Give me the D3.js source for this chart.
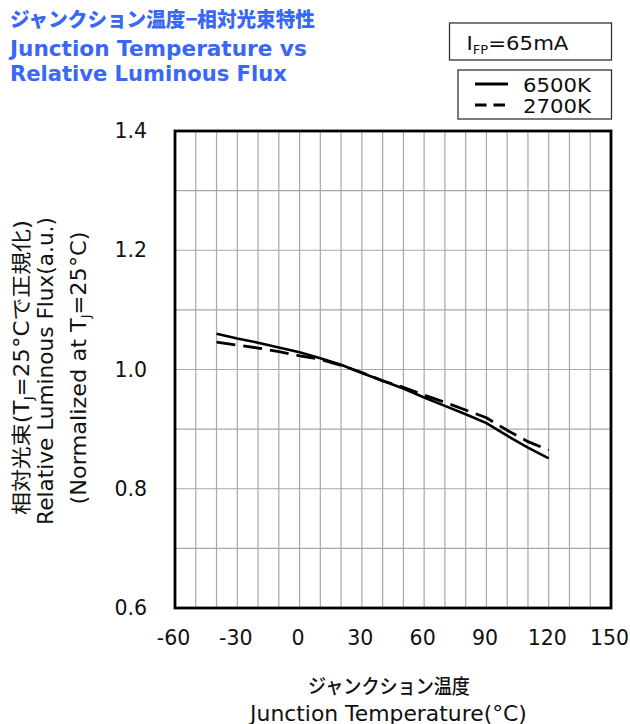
<!DOCTYPE html>
<html lang="ja">
<head>
<meta charset="UTF-8">
<title>Junction Temperature vs Relative Luminous Flux</title>
<script src="https://d3js.org/d3.v7.min.js"></script>
<style>
    body { margin: 0; background: #fff; }
    svg { display: block; }
    .title { font-family: "DejaVu Sans", "Noto Sans CJK JP", sans-serif; font-weight: bold; fill: #3868f5; }
    .lbl { font-family: "DejaVu Sans", "Noto Sans CJK JP", sans-serif; fill: #111; }
    .grid line { stroke: #a8a8a8; stroke-width: 1.2; }
    .axis text { font-family: "DejaVu Sans", sans-serif; font-size: 20.5px; fill: #111; }
</style>
</head>
<body>
<svg width="630" height="724"></svg>
<script>
// values
const temps = [-40, -30, -20, -10, 0, 10, 20, 30, 40, 50, 60, 70, 80, 90, 100, 110, 120];
const flux6500 = [1.060, 1.052, 1.045, 1.037, 1.029, 1.019, 1.008, 0.994, 0.981, 0.968, 0.953, 0.939, 0.925, 0.910, 0.889, 0.869, 0.851];
const flux2700 = [1.046, 1.041, 1.036, 1.030, 1.023, 1.017, 1.007, 0.995, 0.981, 0.970, 0.957, 0.945, 0.932, 0.919, 0.898, 0.879, 0.865];
const xTicks = [-60, -30, 0, 30, 60, 90, 120, 150];
const yTicks = [0.6, 0.8, 1.0, 1.2, 1.4];
const seriesNames = ["6500K", "2700K"];

const svg = d3.select("svg");
const margin = { top: 131, right: 19, bottom: 116, left: 175 };
const W = 630, H = 724;

const x = d3.scaleLinear().domain([-60, 150]).range([margin.left, W - margin.right]);
const y = d3.scaleLinear().domain([0.6, 1.4]).range([H - margin.bottom, margin.top]);

// squeeze/stretch a text horizontally so it spans the width seen in the picture
function fit(sel, tx, ty, rot, target) {
    const w = sel.node().getComputedTextLength();
    sel.attr("transform", `translate(${tx},${ty}) rotate(${rot}) scale(${target / w},1)`);
}

// grid
const grid = svg.append("g").attr("class", "grid");
grid.selectAll(".v")
    .data(d3.range(-50, 150, 10))
    .enter().append("line")
    .attr("x1", d => x(d)).attr("x2", d => x(d))
    .attr("y1", y(0.6)).attr("y2", y(1.4));
grid.selectAll(".h")
    .data(d3.range(0.7, 1.4, 0.1))
    .enter().append("line")
    .attr("x1", x(-60)).attr("x2", x(150))
    .attr("y1", d => y(d)).attr("y2", d => y(d));

// axes (labels only)
svg.append("g")
    .attr("class", "axis")
    .attr("transform", `translate(${x(-60)},0)`)
    .call(d3.axisLeft(y).tickValues(yTicks).tickSize(0).tickPadding(28).tickFormat(d => d.toFixed(1)))
    .call(g => g.select(".domain").remove());

svg.append("g")
    .attr("class", "axis")
    .attr("transform", `translate(-2,${y(0.6)})`)
    .call(d3.axisBottom(x).tickValues(xTicks).tickSize(0).tickPadding(22).tickFormat(d => String(d)))
    .call(g => g.select(".domain").remove());

// curves
const line = d3.line().x(d => x(d[0])).y(d => y(d[1]));
svg.append("path")
    .datum(temps.map((t, i) => [t, flux6500[i]]))
    .attr("d", line)
    .attr("fill", "none").attr("stroke", "#000").attr("stroke-width", 2.6);
svg.append("path")
    .datum(temps.map((t, i) => [t, flux2700[i]]))
    .attr("d", line)
    .attr("fill", "none").attr("stroke", "#000").attr("stroke-width", 2.8)
    .attr("stroke-dasharray", "19,8");

// frame
svg.append("rect")
    .attr("x", x(-60)).attr("y", y(1.4))
    .attr("width", x(150) - x(-60)).attr("height", y(0.6) - y(1.4))
    .attr("fill", "none").attr("stroke", "#000").attr("stroke-width", 2.8);

// titles
const t1 = svg.append("text").attr("class", "title")
    .style("font-family", "'Noto Sans CJK JP', sans-serif")
    .style("font-size", "20px")
    .style("font-weight", "900")
    .text("ジャンクション温度−相対光束特性");
fit(t1, 10, 27, 0, 305);
const t2 = svg.append("text").attr("class", "title")
    .style("font-size", "20.5px")
    .text("Junction Temperature vs");
fit(t2, 10, 56, 0, 297);
const t3 = svg.append("text").attr("class", "title")
    .style("font-size", "20.5px")
    .text("Relative Luminous Flux");
fit(t3, 10, 81, 0, 277);

// condition box
svg.append("rect")
    .attr("x", 449.5).attr("y", 23).attr("width", 162).attr("height", 37)
    .attr("fill", "#fff").attr("stroke", "#333").attr("stroke-width", 1.3);
const cond = svg.append("text").attr("class", "lbl")
    .style("font-size", "19.5px");
cond.append("tspan").text("I");
cond.append("tspan").attr("dy", 4).style("font-size", "12px").text("FP");
cond.append("tspan").attr("dy", -4).text("=65mA");
fit(cond, 466.5, 49.5, 0, 102);

// legend
const legend = svg.append("g");
legend.append("rect")
    .attr("x", 458).attr("y", 70).attr("width", 153.5).attr("height", 49)
    .attr("fill", "#fff").attr("stroke", "#333").attr("stroke-width", 1.3);
const legRows = legend.selectAll(".row")
    .data(seriesNames)
    .enter().append("g")
    .attr("transform", (d, i) => `translate(0,${i * 21})`);
legRows.append("line")
    .attr("x1", 475).attr("x2", 508).attr("y1", 84).attr("y2", 84)
    .attr("stroke", "#000").attr("stroke-width", 3)
    .attr("stroke-dasharray", (d, i) => i === 0 ? null : "11.5,7");
legRows.append("text").attr("class", "lbl")
    .attr("x", 523).attr("y", 92)
    .style("font-size", "19px")
    .attr("textLength", 68).attr("lengthAdjust", "spacingAndGlyphs")
    .text(d => d);

// y axis title
const yt1 = svg.append("text").attr("class", "lbl")
    .attr("text-anchor", "middle")
    .style("font-size", "20.5px");
yt1.append("tspan").text("相対光束(T");
yt1.append("tspan").attr("dy", 4).style("font-size", "12px").text("J");
yt1.append("tspan").attr("dy", -4).text("=25°Cで正規化)");
fit(yt1, 29, 367.5, -90, 295);

const yt2 = svg.append("text").attr("class", "lbl")
    .attr("text-anchor", "middle")
    .style("font-size", "20.5px")
    .text("Relative Luminous Flux(a.u.)");
fit(yt2, 53, 371, -90, 308);

const yt3 = svg.append("text").attr("class", "lbl")
    .attr("text-anchor", "middle")
    .style("font-size", "20.5px");
yt3.append("tspan").text("(Normalized at T");
yt3.append("tspan").attr("dy", 4).style("font-size", "12px").text("J");
yt3.append("tspan").attr("dy", -4).text("=25°C)");
fit(yt3, 86, 368, -90, 273);

// x axis title
const xt1 = svg.append("text").attr("class", "lbl")
    .attr("text-anchor", "middle")
    .style("font-family", "'Noto Sans CJK JP', sans-serif")
    .style("font-size", "20px")
    .style("font-weight", "500")
    .text("ジャンクション温度");
fit(xt1, 389, 694, 0, 162);
const xt2 = svg.append("text").attr("class", "lbl")
    .attr("text-anchor", "middle")
    .style("font-size", "20.5px")
    .text("Junction Temperature(°C)");
fit(xt2, 388.5, 720.5, 0, 277);
</script>
</body>
</html>
